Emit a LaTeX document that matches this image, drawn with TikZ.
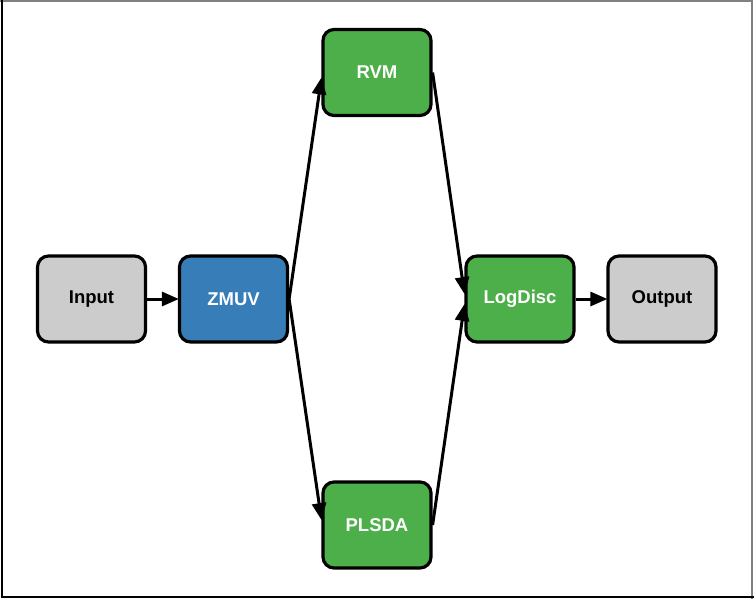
\documentclass[tikz,border=0pt]{standalone}
\usepackage{fontspec}
\setmainfont{Liberation Sans}
\usepackage{tikz}
\usetikzlibrary{arrows.meta}

\definecolor{boxgray}{HTML}{CCCCCC}
\definecolor{boxblue}{HTML}{377EB8}
\definecolor{boxgreen}{HTML}{4DAF4A}

\tikzset{
  stage/.style={draw=black, line width=3.2pt, rounded corners=11pt,
    minimum width=108pt, minimum height=86pt, font=\bfseries\fontsize{18.5}{22}\selectfont},
  flow/.style={line width=3pt, -{Triangle[length=17pt,width=14pt]}, shorten >=-1pt}
}

\begin{document}
\begin{tikzpicture}[x=1pt,y=-1pt]
\useasboundingbox (0,0) rectangle (754,599);
\draw[gray, line width=2pt] (0,1) -- (752,1) -- (752,599);
\draw[black, line width=2pt] (2,0) -- (2,597) -- (754,597);

\node[stage, fill=boxgray] (input) at (91.5,299) {Input};
\node[stage, fill=boxblue, text=white] (zmuv) at (233.5,299) {ZMUV};
\node[stage, fill=boxgreen, text=white] (rvm) at (377,72.5) {RVM};
\node[stage, fill=boxgreen, text=white] (plsda) at (377,525) {PLSDA};
\node[stage, fill=boxgreen, text=white] (logdisc) at (520,299) {LogDisc};
\node[stage, fill=boxgray] (output) at (662,299) {Output};

\draw[flow] (input) -- (zmuv);
\draw[flow] (zmuv.east) -- (rvm.186);
\draw[flow] (zmuv.east) -- (plsda.174);
\draw[flow] (rvm.east) -- (logdisc.174);
\draw[flow] (plsda.east) -- (logdisc.186);
\draw[flow] (logdisc) -- (output);

\end{tikzpicture}
\end{document}
